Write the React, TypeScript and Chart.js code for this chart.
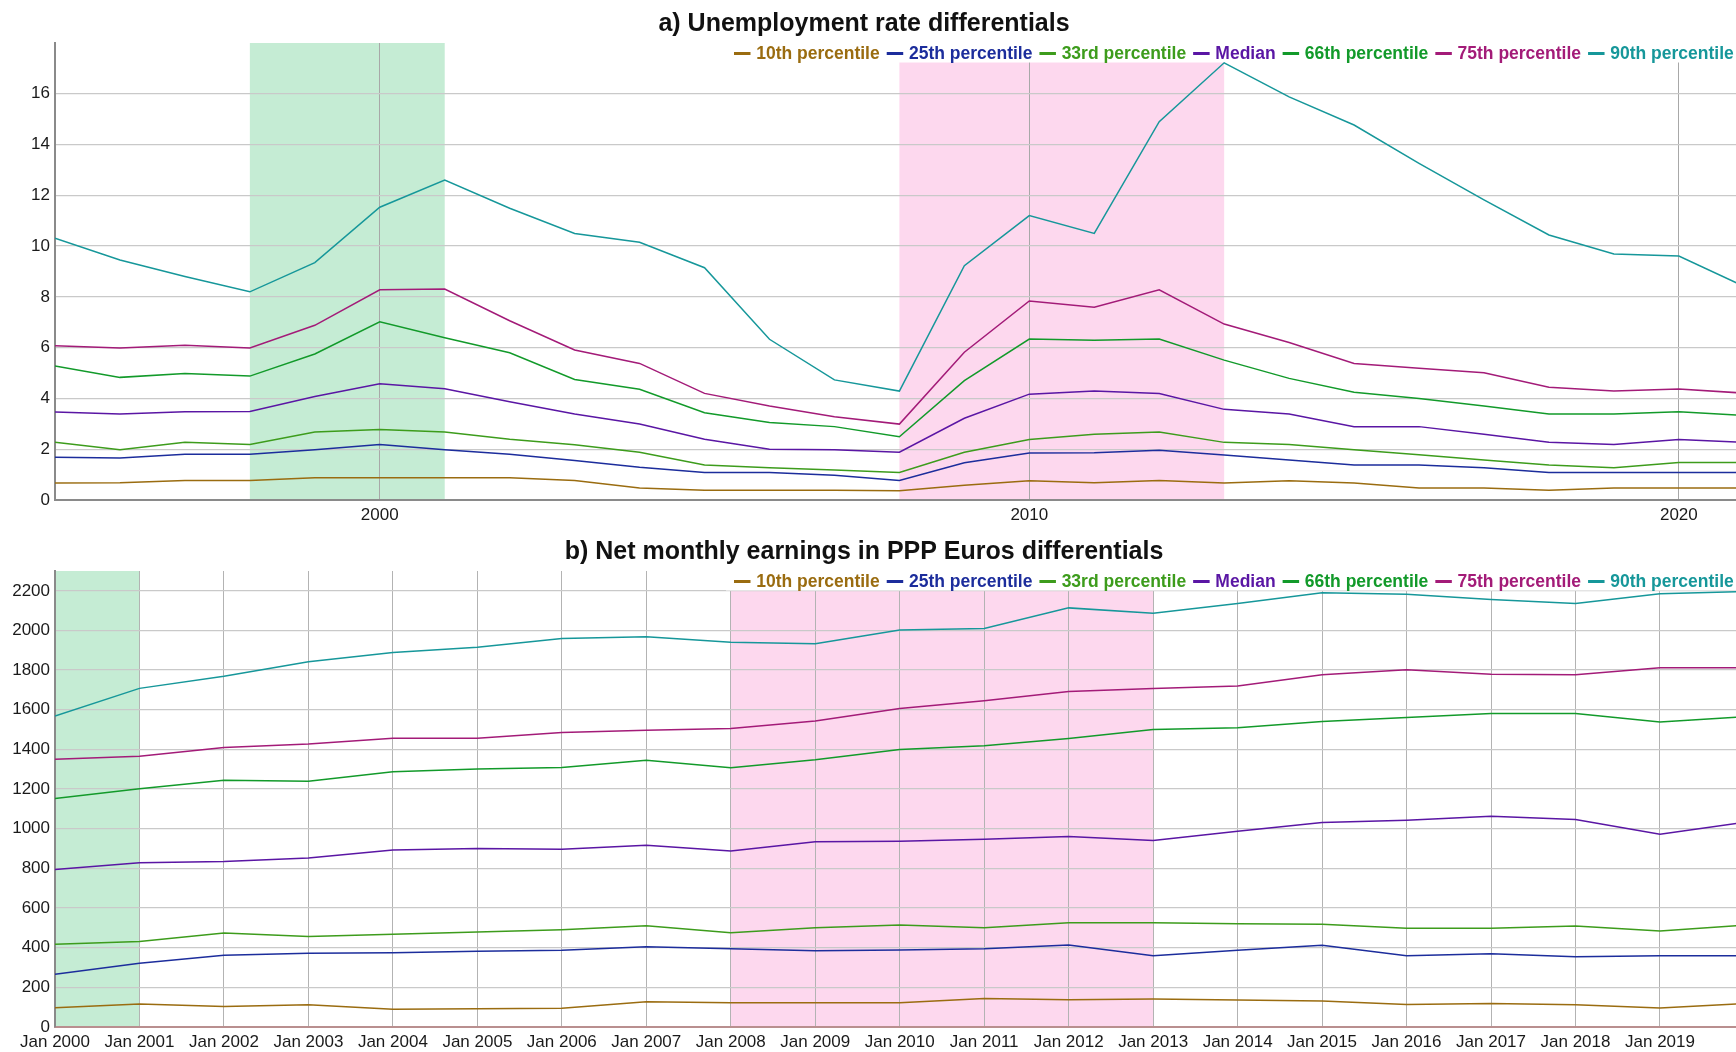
import { useEffect, useRef } from 'react';
import { Chart, registerables } from 'chart.js';

Chart.register(...registerables);

const FONT = '"Liberation Sans", Arial, Helvetica, sans-serif';

// ---------- shared series meta ----------
const seriesNames = [
  '10th percentile',
  '25th percentile',
  '33rd percentile',
  'Median',
  '66th percentile',
  '75th percentile',
  '90th percentile',
];
const seriesColors = ['#9a6c10', '#1c2d9c', '#3d9c1c', '#5a16a4', '#129a2a', '#a31b78', '#16979a'];

// ---------- panel a) unemployment ----------
const unempTitle = 'a) Unemployment rate differentials';
const unempYears = [1995, 1996, 1997, 1998, 1999, 2000, 2001, 2002, 2003, 2004, 2005, 2006, 2007, 2008, 2009, 2010, 2011, 2012, 2013, 2014, 2015, 2016, 2017, 2018, 2019, 2020, 2021];
const unempP10 = [0.67, 0.68, 0.77, 0.77, 0.88, 0.88, 0.88, 0.88, 0.77, 0.47, 0.38, 0.38, 0.38, 0.36, 0.58, 0.76, 0.68, 0.77, 0.67, 0.76, 0.67, 0.47, 0.47, 0.38, 0.47, 0.47, 0.47];
const unempP25 = [1.68, 1.65, 1.8, 1.8, 1.98, 2.19, 1.98, 1.8, 1.56, 1.29, 1.08, 1.08, 0.97, 0.77, 1.47, 1.85, 1.86, 1.96, 1.77, 1.58, 1.38, 1.38, 1.27, 1.08, 1.08, 1.08, 1.08];
const unempP33 = [2.27, 1.98, 2.27, 2.19, 2.68, 2.78, 2.68, 2.39, 2.18, 1.88, 1.38, 1.27, 1.18, 1.08, 1.88, 2.38, 2.59, 2.68, 2.27, 2.19, 1.98, 1.78, 1.58, 1.38, 1.27, 1.48, 1.48];
const unempMedian = [3.47, 3.39, 3.48, 3.49, 4.08, 4.58, 4.38, 3.87, 3.39, 2.99, 2.39, 2.0, 1.98, 1.88, 3.22, 4.17, 4.29, 4.19, 3.57, 3.39, 2.89, 2.89, 2.59, 2.27, 2.19, 2.38, 2.27];
const unempP66 = [5.28, 4.83, 4.98, 4.88, 5.75, 7.02, 6.39, 5.8, 4.75, 4.36, 3.44, 3.05, 2.89, 2.49, 4.7, 6.34, 6.29, 6.34, 5.51, 4.79, 4.24, 4.0, 3.7, 3.39, 3.39, 3.48, 3.33];
const unempP75 = [6.08, 5.99, 6.1, 5.99, 6.88, 8.28, 8.31, 7.06, 5.91, 5.38, 4.2, 3.7, 3.28, 2.99, 5.82, 7.84, 7.59, 8.28, 6.93, 6.2, 5.38, 5.19, 5.01, 4.44, 4.29, 4.37, 4.21];
const unempP90 = [10.31, 9.45, 8.8, 8.2, 9.35, 11.53, 12.6, 11.49, 10.5, 10.15, 9.15, 6.33, 4.73, 4.29, 9.23, 11.2, 10.5, 14.9, 17.22, 15.88, 14.77, 13.26, 11.82, 10.44, 9.69, 9.61, 8.42];
const unempXTicks = [2000, 2010, 2020];
const unempYTicks = [0, 2, 4, 6, 8, 10, 12, 14, 16];
const unempBands = [
  { from: 1998, to: 2001, color: '#c5ecd4' },
  { from: 2008, to: 2013, color: '#fdd8ee' },
];

// ---------- panel b) earnings ----------
const earnTitle = 'b) Net monthly earnings in PPP Euros differentials';
const earnYears = [2000, 2001, 2002, 2003, 2004, 2005, 2006, 2007, 2008, 2009, 2010, 2011, 2012, 2013, 2014, 2015, 2016, 2017, 2018, 2019, 2020];
const earnP10 = [97, 116, 104, 112, 90, 92, 94, 127, 122, 122, 122, 144, 137, 141, 136, 131, 114, 119, 112, 96, 118];
const earnP25 = [266, 322, 362, 372, 374, 382, 387, 405, 395, 384, 389, 395, 414, 359, 387, 412, 360, 369, 354, 360, 360];
const earnP33 = [417, 431, 474, 456, 468, 479, 491, 511, 476, 501, 515, 500, 526, 526, 521, 518, 498, 498, 510, 484, 513];
const earnMedian = [795, 828, 835, 853, 893, 900, 897, 917, 888, 934, 937, 947, 961, 941, 987, 1031, 1043, 1063, 1046, 972, 1032];
const earnP66 = [1152, 1202, 1244, 1240, 1288, 1301, 1309, 1346, 1308, 1348, 1400, 1418, 1455, 1500, 1510, 1541, 1561, 1581, 1581, 1539, 1565];
const earnP75 = [1351, 1366, 1410, 1427, 1457, 1457, 1485, 1497, 1506, 1544, 1606, 1646, 1692, 1707, 1720, 1777, 1802, 1779, 1777, 1812, 1812];
const earnP90 = [1569, 1708, 1769, 1842, 1889, 1916, 1960, 1968, 1941, 1933, 2002, 2010, 2114, 2087, 2136, 2190, 2183, 2156, 2136, 2185, 2196];
const earnXTicks = [2000, 2001, 2002, 2003, 2004, 2005, 2006, 2007, 2008, 2009, 2010, 2011, 2012, 2013, 2014, 2015, 2016, 2017, 2018, 2019];
const earnYTicks = [0, 200, 400, 600, 800, 1000, 1200, 1400, 1600, 1800, 2000, 2200];
const earnBands = [
  { from: 2000, to: 2001, color: '#c5ecd4' },
  { from: 2008, to: 2013, color: '#fdd8ee' },
];

// ---------- plugins ----------
const bandPlugin = {
  id: 'bands',
  beforeDraw(chart: any, _args: any, opts: any) {
    const { ctx, chartArea, scales } = chart;
    const x = scales.x;
    ctx.save();
    for (const b of opts.bands || []) {
      const x0 = x.getPixelForValue(b.from);
      const x1 = x.getPixelForValue(b.to);
      ctx.fillStyle = b.color;
      ctx.fillRect(x0, chartArea.top, x1 - x0, chartArea.bottom - chartArea.top);
    }
    ctx.restore();
  },
};

const titlePlugin = {
  id: 'titleText',
  afterDraw(chart: any, _args: any, opts: any) {
    const { ctx } = chart;
    ctx.save();
    ctx.font = `bold 25px ${FONT}`;
    ctx.fillStyle = '#111';
    ctx.textAlign = 'center';
    ctx.textBaseline = 'alphabetic';
    ctx.fillText(opts.text, opts.x, opts.baseline);
    ctx.restore();
  },
};

const legendPlugin = {
  id: 'inlineLegend',
  beforeDatasetsDraw(chart: any, _args: any, opts: any) {
    const { ctx, chartArea } = chart;
    ctx.save();
    ctx.fillStyle = '#ffffff';
    ctx.fillRect(opts.boxLeft, chartArea.top, chart.width - opts.boxLeft, opts.boxHeight);
    ctx.font = `bold 17.5px ${FONT}`;
    ctx.textBaseline = 'middle';
    ctx.textAlign = 'left';
    let x = opts.startX;
    const y = chartArea.top + opts.textOffset;
    for (const ds of chart.data.datasets) {
      ctx.strokeStyle = ds.borderColor;
      ctx.lineWidth = 3;
      ctx.beginPath();
      ctx.moveTo(x, y);
      ctx.lineTo(x + 16.5, y);
      ctx.stroke();
      x += 16.5 + 5.7;
      ctx.fillStyle = ds.borderColor;
      ctx.fillText(ds.label, x, y + 1);
      x += ctx.measureText(ds.label).width + 7;
    }
    ctx.restore();
  },
};

function makeDatasets(xs: number[], series: number[][]) {
  return series.map((vals, i) => ({
    label: seriesNames[i],
    data: vals.map((v, j) => ({ x: xs[j], y: v })),
    borderColor: seriesColors[i],
    backgroundColor: seriesColors[i],
    borderWidth: 1.5,
    pointRadius: 0,
    tension: 0,
    fill: false,
  }));
}

function makeConfig(p: {
  xs: number[];
  series: number[][];
  xMin: number;
  xMax: number;
  yMax: number;
  xTicks: number[];
  yTicks: number[];
  xLabel: (v: number) => string;
  bands: any[];
  title: string;
  titleBaseline: number;
  padTop: number;
  xAxisHeight: number;
  xGridColor: string;
  xBorderColor: string;
}): any {
  return {
    type: 'line',
    data: { datasets: makeDatasets(p.xs, p.series) },
    plugins: [bandPlugin, legendPlugin, titlePlugin],
    options: {
      responsive: false,
      maintainAspectRatio: false,
      animation: false,
      parsing: true,
      layout: { padding: { top: p.padTop, left: 0, right: 0, bottom: 0 } },
      plugins: {
        legend: { display: false },
        title: { display: false },
        tooltip: { enabled: false },
        bands: { bands: p.bands },
        inlineLegend: { boxLeft: 726, boxHeight: 19.5, startX: 734, textOffset: 10.5 },
        titleText: { text: p.title, x: 864, baseline: p.titleBaseline },
      },
      scales: {
        x: {
          type: 'linear',
          min: p.xMin,
          max: p.xMax,
          afterBuildTicks: (s: any) => {
            s.ticks = p.xTicks.map((v) => ({ value: v }));
          },
          afterFit: (s: any) => {
            s.height = p.xAxisHeight;
          },
          grid: { color: p.xGridColor, lineWidth: 1, drawTicks: false },
          border: { display: true, color: p.xBorderColor, width: 2 },
          ticks: {
            autoSkip: false,
            maxRotation: 0,
            minRotation: 0,
            padding: 5,
            color: '#1a1a1a',
            font: { family: FONT, size: 17 },
            callback: (v: any) => p.xLabel(Number(v)),
          },
        },
        y: {
          type: 'linear',
          min: 0,
          max: p.yMax,
          afterBuildTicks: (s: any) => {
            s.ticks = p.yTicks.map((v) => ({ value: v }));
          },
          afterFit: (s: any) => {
            s.width = 55;
          },
          grid: { color: '#c9c9c9', lineWidth: 1.3, drawTicks: false },
          border: { display: true, color: '#8a8a8a', width: 2 },
          ticks: {
            padding: 5,
            color: '#1a1a1a',
            font: { family: FONT, size: 17 },
            callback: (v: any) => String(v),
          },
        },
      },
    },
  };
}

const topConfig = () =>
  makeConfig({
    xs: unempYears,
    series: [unempP10, unempP25, unempP33, unempMedian, unempP66, unempP75, unempP90],
    xMin: 1995,
    xMax: 2020.88,
    yMax: 18,
    xTicks: unempXTicks,
    yTicks: unempYTicks,
    xLabel: (v) => String(v),
    bands: unempBands,
    title: unempTitle,
    titleBaseline: 31.3,
    padTop: 43,
    xAxisHeight: 30,
    xGridColor: '#a8a8a8',
    xBorderColor: '#8a8a8a',
  });

const bottomConfig = () =>
  makeConfig({
    xs: earnYears,
    series: [earnP10, earnP25, earnP33, earnMedian, earnP66, earnP75, earnP90],
    xMin: 2000,
    xMax: 2019.9,
    yMax: 2300,
    xTicks: earnXTicks,
    yTicks: earnYTicks,
    xLabel: (v) => 'Jan ' + String(v),
    bands: earnBands,
    title: earnTitle,
    titleBaseline: 29.3,
    padTop: 41,
    xAxisHeight: 25,
    xGridColor: '#b3b3b3',
    xBorderColor: '#b98f8f',
  });

export default function App() {
  const topRef = useRef<HTMLCanvasElement>(null);
  const botRef = useRef<HTMLCanvasElement>(null);

  useEffect(() => {
    document.body.style.margin = '0';
    document.body.style.background = '#ffffff';
    const c1 = new Chart(topRef.current as HTMLCanvasElement, topConfig());
    const c2 = new Chart(botRef.current as HTMLCanvasElement, bottomConfig());
    return () => {
      c1.destroy();
      c2.destroy();
    };
  }, []);

  return (
    <div style={{ width: 1736, height: 1052, background: '#fff', overflow: 'hidden' }}>
      <canvas ref={topRef} width={1736} height={530} style={{ display: 'block', width: 1736, height: 530 }} />
      <canvas ref={botRef} width={1736} height={522} style={{ display: 'block', width: 1736, height: 522 }} />
    </div>
  );
}
